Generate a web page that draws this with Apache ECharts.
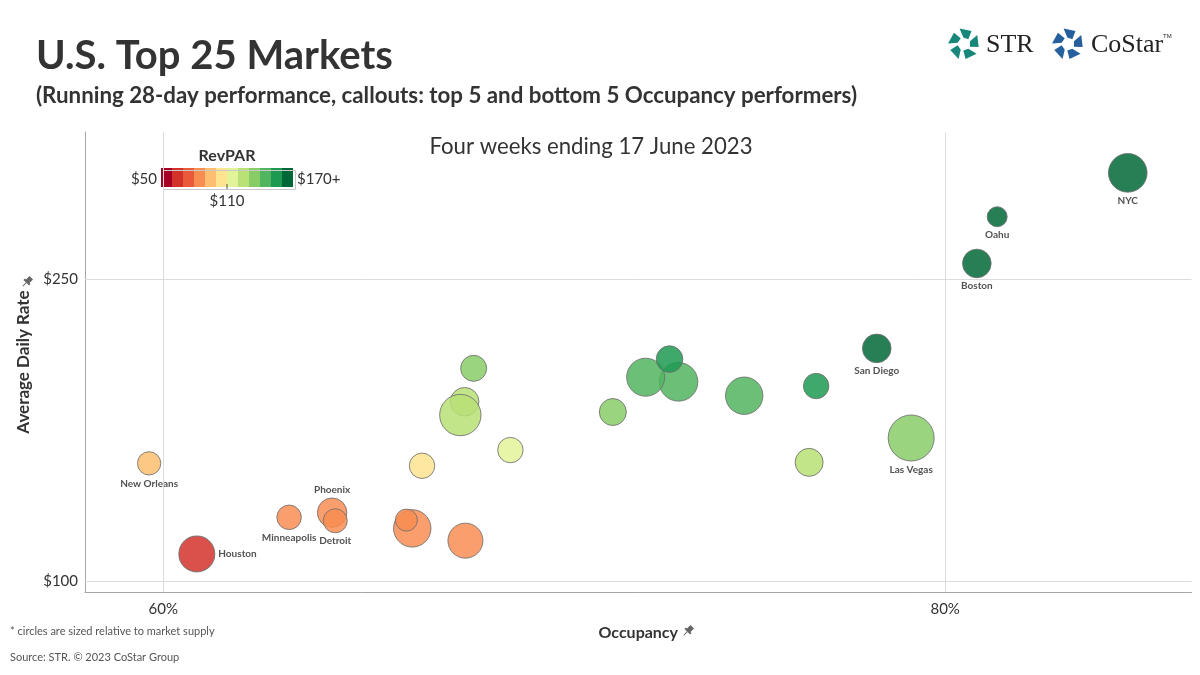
<!DOCTYPE html>
<html><head><meta charset="utf-8">
<script src="https://cdn.jsdelivr.net/npm/echarts@6/dist/echarts.min.js"></script>
<style>html,body{margin:0;padding:0;background:#fff}#c{width:1200px;height:675px}</style>
</head><body><div id="c"></div>
<script>
// ---- data ----
const marketNames = ['NYC','Oahu','Boston','San Diego','','Las Vegas','','','','','','','','','','','','New Orleans','Houston','Minneapolis','Phoenix','Detroit','','',''];
const occupancy = [84.67,81.33,80.81,78.25,76.70,79.13,76.52,74.86,73.18,72.34,72.95,71.50,67.94,67.71,67.60,68.88,66.62,59.64,60.86,63.22,64.32,64.40,66.37,66.22,67.73];
const adr       = [303.0,281.2,258.0,215.8,197.1,171.3,159.2,192.3,199.2,201.5,210.5,184.2,205.9,189.3,182.7,165.3,157.5,158.7,113.7,131.9,134.2,130.2,126.4,130.5,120.3];
const revpar    = [257,229,208,169,151,136,122,144,146,146,154,132,139,128,124,114,105,95,69,83,86,84,84,86,81];
const supply    = [129,34.6,70.8,70.8,55.8,183,67.8,121,129,125,61.2,63,58.5,70.8,148,55.8,55.8,47,112,52,75,50,121,42,106];
const labelPos  = ['bottom','bottom','bottom','bottom','','bottom','','','','','','','','','','','','bottom','right','bottom','top','bottom','','',''];
const xTicks = [60, 80];
const yTicks = [100, 250];
const revparBreaks = [50,60,70,80,90,100,110,120,130,140,150,160,170];
const revparPalette = ['#a50026','#d3322b','#ea5a3a','#f88d52','#fdbe6f','#fee491','#e3f399','#b9e176','#88cc67','#51b45f','#1d9a51','#006837'];
const legendTicks = [{v:50,t:'$50'},{v:110,t:'$110'},{v:170,t:'$170+'}];

const FONT = 'Lato';
const TXT = '#333333';

const seriesData = occupancy.map((o,i)=>({
  value:[o, adr[i], revpar[i], supply[i]],
  name: marketNames[i],
  label:{show: !!marketNames[i], position: labelPos[i] || 'bottom'}
}));

const pieces = revparPalette.map((c,i)=>{
  const p = {color:c};
  if (i>0) p.gte = revparBreaks[i];
  if (i<revparPalette.length-1) p.lt = revparBreaks[i+1];
  return p;
});

// legend swatches
const lgX = 161, lgY = 168, swW = 11, swH = 19;
const graphics = [];
revparPalette.forEach((c,i)=>graphics.push({type:'rect',left:lgX+i*swW,top:lgY,shape:{width:swW,height:swH},style:{fill:c},silent:true}));
graphics.push({type:'rect',left:lgX,top:lgY,shape:{width:swW*revparPalette.length,height:swH},style:{fill:'none',stroke:'#c8c8c8',lineWidth:1},silent:true});
const lgScale = v => lgX + (v-50)/(170-50)*swW*revparPalette.length;
graphics.push({type:'text',x:lgX+swW*6,y:156,style:{text:'RevPAR',font:'bold 16px '+FONT,fill:TXT,align:'center',verticalAlign:'middle'}});
graphics.push({type:'text',x:lgScale(legendTicks[0].v)-4,y:179,style:{text:legendTicks[0].t,font:'15px '+FONT,fill:TXT,align:'right',verticalAlign:'middle'}});
graphics.push({type:'text',x:lgScale(legendTicks[2].v)+4,y:179,style:{text:legendTicks[2].t,font:'15px '+FONT,fill:TXT,align:'left',verticalAlign:'middle'}});
graphics.push({type:'line',shape:{x1:lgScale(110),y1:lgY+swH-3,x2:lgScale(110),y2:lgY+swH+2},style:{stroke:'#555',lineWidth:1}});
graphics.push({type:'text',x:lgScale(legendTicks[1].v),y:201,style:{text:legendTicks[1].t,font:'15px '+FONT,fill:TXT,align:'center',verticalAlign:'middle'}});

// titles
graphics.push({type:'text',x:36,y:56,style:{text:'U.S. Top 25 Markets',font:'bold 40px '+FONT,fill:TXT,verticalAlign:'middle'}});
graphics.push({type:'text',x:36,y:96,style:{text:'(Running 28-day performance, callouts: top 5 and bottom 5 Occupancy performers)',font:'bold 22.3px '+FONT,fill:TXT,verticalAlign:'middle'}});
graphics.push({type:'text',x:591,y:147,style:{text:'Four weeks ending 17 June 2023',font:'22.2px '+FONT,fill:TXT,align:'center',verticalAlign:'middle'}});
graphics.push({type:'text',x:10,y:631,style:{text:'* circles are sized relative to market supply',font:'11px '+FONT,fill:'#555',verticalAlign:'middle'}});
graphics.push({type:'text',x:10,y:657,style:{text:'Source: STR. \u00A9 2023 CoStar Group',font:'11px '+FONT,fill:'#555',verticalAlign:'middle'}});

// pin icons
function pin(x,y){
  return {type:'group',x:x,y:y,rotation:-Math.PI/4,silent:true,children:[
    {type:'rect',shape:{x:-2.5,y:-6,width:5,height:6},style:{fill:'#666'}},
    {type:'rect',shape:{x:-4,y:-1,width:8,height:2},style:{fill:'#666'}},
    {type:'line',shape:{x1:0,y1:1,x2:0,y2:6},style:{stroke:'#666',lineWidth:1}}
  ]};
}
graphics.push(pin(688,631));
graphics.push(pin(27,282));

// logos
function starMark(cx,cy,color){
  const R=16, r=6.5, out=[];
  const pol=(rad,deg)=>[cx+rad*Math.cos(deg*Math.PI/180), cy+rad*Math.sin(deg*Math.PI/180)];
  for(let k=0;k<5;k++){
    const a=-90+72*k+8;
    out.push({type:'polygon',shape:{points:[pol(R,a-24),pol(R-1,a+22),pol(r,a+34),pol(r,a-14)]},style:{fill:color},silent:true});
  }
  return out;
}
starMark(964,44,'#17877a').forEach(g=>graphics.push(g));
graphics.push({type:'text',x:986,y:45,style:{text:'STR',font:'26px "Liberation Serif"',fill:'#222',verticalAlign:'middle'}});
starMark(1068,44,'#265f9e').forEach(g=>graphics.push(g));
graphics.push({type:'text',x:1091,y:45,style:{text:'CoStar',font:'26px "Liberation Serif"',fill:'#222',verticalAlign:'middle'}});
graphics.push({type:'text',x:1163,y:36,style:{text:'TM',font:'6px "Liberation Sans"',fill:'#222',verticalAlign:'middle'}});

const chart = echarts.init(document.getElementById('c'), null, {renderer:'canvas'});
chart.setOption({
  animation:false,
  backgroundColor:'#fff',
  textStyle:{fontFamily:FONT},
  grid:{left:85,right:8.5,top:132,bottom:83,containLabel:false},
  xAxis:{type:'value',min:58,max:86.3,
    name:'Occupancy',nameLocation:'middle',nameGap:33,
    nameTextStyle:{fontFamily:FONT,fontWeight:'bold',fontSize:16,color:TXT},
    axisLine:{show:true,lineStyle:{color:'#a6a6a6',width:1}},
    axisTick:{show:false},splitLine:{show:false},
    axisLabel:{customValues:xTicks,formatter:v=>v+'%',fontFamily:FONT,fontSize:15,color:TXT,margin:10}},
  yAxis:{type:'value',min:94.8,max:323.3,
    name:'Average Daily Rate',nameLocation:'middle',nameGap:44,nameRotate:90,
    nameTextStyle:{fontFamily:FONT,fontWeight:'bold',fontSize:17,color:TXT},
    axisLine:{show:true,lineStyle:{color:'#a6a6a6',width:1}},
    axisTick:{show:false},splitLine:{show:false},
    axisLabel:{customValues:yTicks,formatter:v=>'$'+v,fontFamily:FONT,fontSize:15,color:TXT,margin:7}},
  visualMap:{type:'piecewise',show:false,dimension:2,seriesIndex:1,pieces:pieces},
  graphic:graphics,
  series:[
    {type:'scatter',data:[],z:1,silent:true,
     markLine:{silent:true,symbol:'none',label:{show:false},animation:false,
       lineStyle:{color:'#dcdcdc',width:1,type:'solid'},
       data:xTicks.map(v=>({xAxis:v})).concat(yTicks.map(v=>({yAxis:v})))}},
    {type:'scatter',z:3,data:seriesData,
     symbolSize:v=>3.4*Math.sqrt(v[3]),
     itemStyle:{opacity:0.85,borderColor:'#6f6f6f',borderWidth:1},
     label:{formatter:p=>p.name,fontFamily:FONT,fontWeight:'bold',fontSize:10,color:TXT,distance:3},
     emphasis:{disabled:true}}
  ]
});
</script></body></html>
